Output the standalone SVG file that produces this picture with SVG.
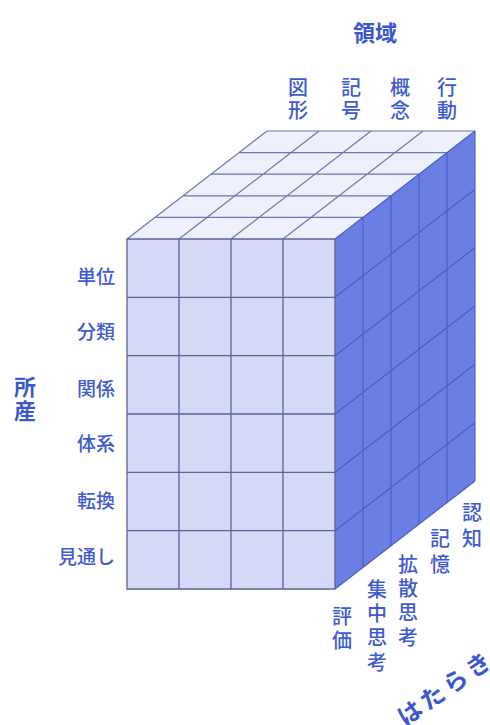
<svg xmlns="http://www.w3.org/2000/svg" width="490" height="725" viewBox="0 0 490 725">
<style>
.lbl{font-family:"Noto Sans CJK JP","Noto Sans",sans-serif;fill:#3f5bd2;font-weight:500;}
.ttl{font-family:"Noto Sans CJK JP","Noto Sans",sans-serif;fill:#3a57d0;font-weight:700;}
.fl{stroke:#5a6399;stroke-width:1.3;fill:none;}
.tl{stroke:#6d76b0;stroke-width:1.2;fill:none;}
.rl{stroke:#4a5cc4;stroke-width:1.1;fill:none;}
</style>
<rect width="490" height="725" fill="#ffffff"/>
<g id="cube">
  <polygon id="top-face" points="127,239 335,239 475,131 267,131" fill="#eef1fc"/>
  <polygon id="right-face" points="335,239 475,131 475,481 335,589" fill="#6a7fe3"/>
  <rect id="front-face" x="127" y="239" width="208" height="350" fill="#d4daf6"/>
</g>
<g id="connectors">
  <!-- top face grid -->
  <path class="tl" d="M155,217.4H363 M183,195.8H391 M211,174.2H419 M239,152.6H447 M267,131H475 M127,239L267,131 M179,239L319,131 M231,239L371,131 M283,239L423,131"/>
  <!-- right face grid -->
  <path class="rl" d="M363,217.4V567.4 M391,195.8V545.8 M419,174.2V524.2 M447,152.6V502.6 M335,297.3L475,189.3 M335,355.7L475,247.7 M335,414L475,306 M335,472.3L475,364.3 M335,530.7L475,422.7 M475,131V481 M335,589L475,481 M335,239L475,131"/>
  <!-- front face grid -->
  <path class="fl" d="M127,239H335V589H127Z M179,239V589 M231,239V589 M283,239V589 M127,297.3H335 M127,355.7H335 M127,414H335 M127,472.3H335 M127,530.7H335"/>
</g>
<g id="axis-domain">
  <text class="ttl" x="375" y="41" font-size="22" text-anchor="middle">領域</text>
  <text class="lbl" font-size="20" text-anchor="middle"><tspan x="298" y="95">図</tspan><tspan x="298" y="118">形</tspan></text>
  <text class="lbl" font-size="20" text-anchor="middle"><tspan x="351" y="95">記</tspan><tspan x="351" y="118">号</tspan></text>
  <text class="lbl" font-size="20" text-anchor="middle"><tspan x="400" y="95">概</tspan><tspan x="400" y="118">念</tspan></text>
  <text class="lbl" font-size="20" text-anchor="middle"><tspan x="447" y="95">行</tspan><tspan x="447" y="118">動</tspan></text>
</g>
<g id="axis-product">
  <text class="ttl" font-size="22" text-anchor="middle"><tspan x="25" y="395">所</tspan><tspan x="25" y="419">産</tspan></text>
  <text class="lbl" font-size="19" text-anchor="end" x="115" y="284">単位</text>
  <text class="lbl" font-size="19" text-anchor="end" x="115" y="339">分類</text>
  <text class="lbl" font-size="19" text-anchor="end" x="115" y="396">関係</text>
  <text class="lbl" font-size="19" text-anchor="end" x="115" y="451">体系</text>
  <text class="lbl" font-size="19" text-anchor="end" x="115" y="508">転換</text>
  <text class="lbl" font-size="19" text-anchor="end" x="115" y="564">見通し</text>
</g>
<g id="axis-operation">
  <text class="lbl" font-size="20" text-anchor="middle"><tspan x="472" y="520">認</tspan><tspan x="472" y="546">知</tspan></text>
  <text class="lbl" font-size="20" text-anchor="middle"><tspan x="440" y="546">記</tspan><tspan x="440" y="572">憶</tspan></text>
  <text class="lbl" font-size="20" text-anchor="middle"><tspan x="408" y="572">拡</tspan><tspan x="408" y="596">散</tspan><tspan x="408" y="620">思</tspan><tspan x="408" y="645">考</tspan></text>
  <text class="lbl" font-size="20" text-anchor="middle"><tspan x="377" y="597">集</tspan><tspan x="377" y="621">中</tspan><tspan x="377" y="645">思</tspan><tspan x="377" y="670">考</tspan></text>
  <text class="lbl" font-size="20" text-anchor="middle"><tspan x="342" y="624">評</tspan><tspan x="342" y="648">価</tspan></text>
  <text class="ttl" font-size="24" letter-spacing="4" transform="translate(405,727) rotate(-35)">はたらき</text>
</g>
</svg>
